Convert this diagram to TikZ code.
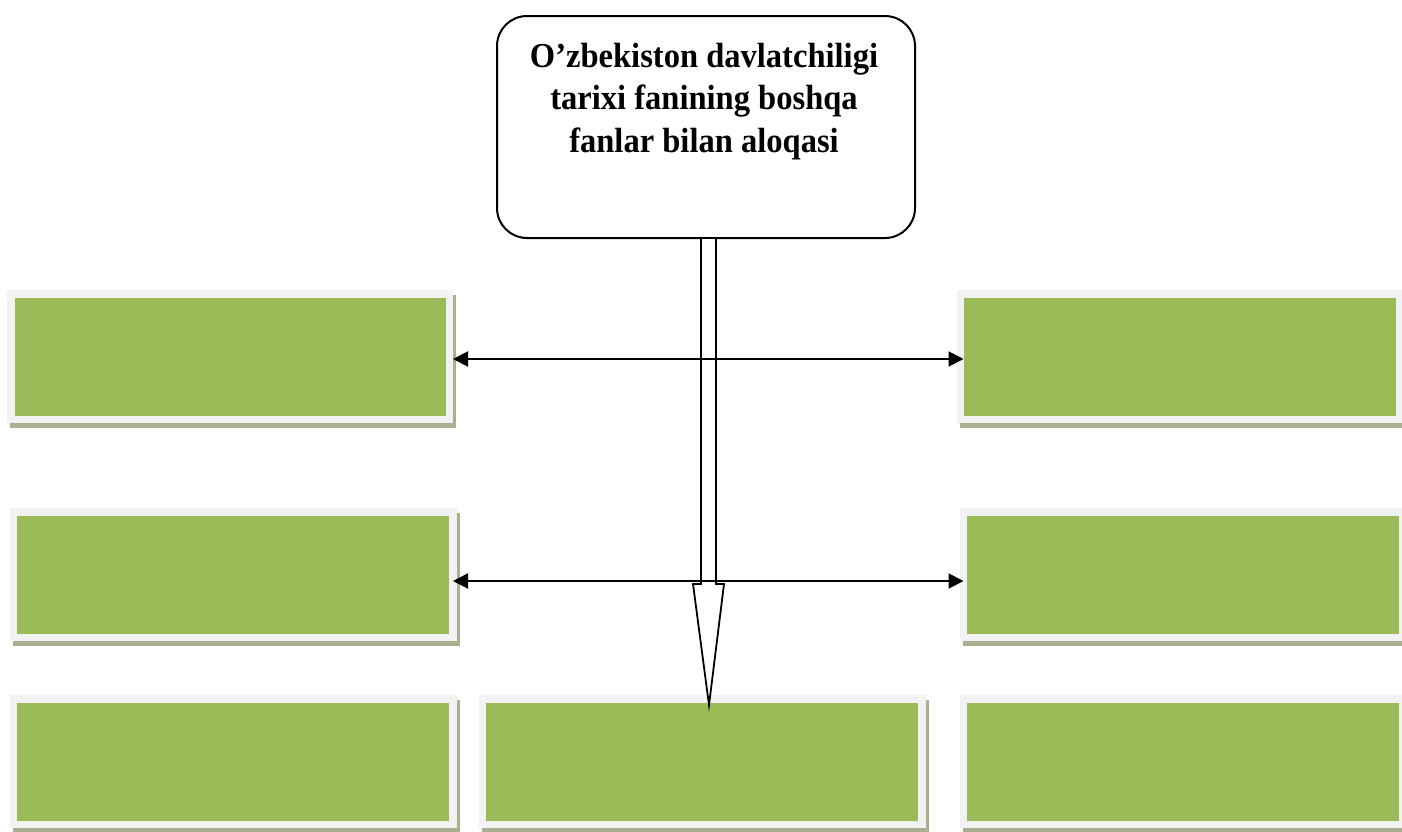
\documentclass[tikz,border=0pt]{standalone}
\usepackage{fontspec}
\setmainfont{Liberation Serif}
\newfontfamily\titlefont[FakeStretch=0.93]{Liberation Serif}
\usetikzlibrary{arrows.meta}
\definecolor{gfill}{RGB}{155,187,89}
\definecolor{gframe}{RGB}{242,242,242}
\definecolor{gshadow}{RGB}{168,176,145}
\tikzset{
  greenbox/.style={fill=gfill, draw=gframe, line width=7.5pt,
    minimum width=439.5pt, minimum height=125.5pt, inner sep=0pt,
    preaction={draw=gshadow, fill=gshadow, transform canvas={xshift=3pt, yshift=-5pt}}},
  topbox/.style={draw=black, line width=2pt, rounded corners=30pt, fill=white,
    minimum width=418pt, minimum height=222pt, inner sep=0pt},
  titletext/.style={align=center, inner sep=0pt, font=\titlefont\fontsize{35}{42.5}\selectfont\bfseries},
  linkarrow/.style={line width=2pt, {Triangle[length=15pt,width=15pt]}-{Triangle[length=15pt,width=15pt]}},
  blockarrow/.style={draw=black, line width=1.8pt, fill=white, line join=miter}
}
\begin{document}
\begin{tikzpicture}[x=1pt, y=-1pt]
\useasboundingbox (0,0) rectangle (1402,831);
% boxes
\node[greenbox, minimum width=438.5pt] (L1) at (230,356.5) {};
\node[greenbox, minimum width=439.5pt] (R1) at (1180,356.5) {};
\node[greenbox] (L2) at (233,574.5) {};
\node[greenbox] (R2) at (1183,574.5) {};
\node[greenbox] (L3) at (233,761.5) {};
\node[greenbox] (M3) at (702,761.5) {};
\node[greenbox] (R3) at (1183,761.5) {};
% top box
\node[topbox] (T) at (706,127) {};
\node[titletext, anchor=north] (Tt) at (704,43) {O’zbekiston davlatchiligi\\tarixi fanining boshqa\\fanlar bilan aloqasi};
% block arrow
\coordinate (tip) at ([yshift=-10pt]M3.north);
\draw[blockarrow] ([xshift=-5pt]T.south) -- ++(0,345) -- ++(-8,0) -- ([xshift=7pt]tip) -- ++(15,-121) -- ++(-8,0) -- ([xshift=10pt]T.south);
% horizontal arrows
\draw[linkarrow, shorten >=-7pt] ([yshift=-2.5pt]L1.east) -- ([yshift=-2.5pt]R1.west);
\draw[linkarrow, shorten <=-3.5pt, shorten >=-4pt] ([yshift=-6.5pt]L2.east) -- ([yshift=-6.5pt]R2.west);
\end{tikzpicture}
\end{document}
